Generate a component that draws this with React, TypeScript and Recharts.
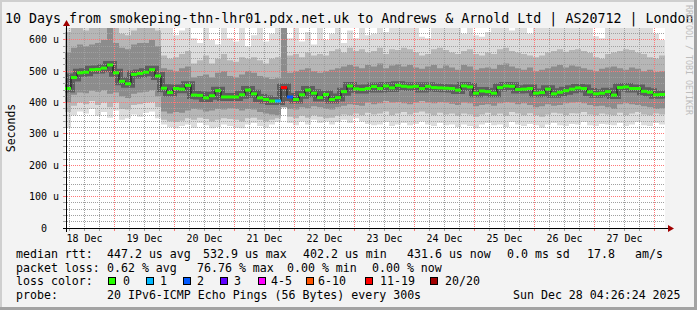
import React from 'react';
import { ComposedChart, Area, Line, XAxis, YAxis } from 'recharts';

const START_H = 4.2; // left edge of the plot, hours after 18 Dec 00:00
const STEP_H = 2.4;  // width of one smoke column in hours
const MONO = '"DejaVu Sans Mono", monospace';

const dayLabels = ['18 Dec', '19 Dec', '20 Dec', '21 Dec', '22 Dec', '23 Dec', '24 Dec', '25 Dec', '26 Dec', '27 Dec'];
const yLabels = ['0', '100 u', '200 u', '300 u', '400 u', '500 u', '600 u'];

// median rtt per column (us)
const median = [
  445, 480, 495, 497, 505, 506, 510, 520, 495, 468,
  460, 490, 493, 497, 505, 485, 446, 432, 445, 443,
  455, 424, 423, 415, 422, 438, 418, 418, 418, 425,
  440, 428, 415, 410, 405, 405, 448, 418, 410, 425,
  440, 430, 416, 426, 410, 416, 435, 453, 444, 442,
  445, 451, 445, 453, 447, 455, 452, 450, 452, 445,
  452, 448, 447, 446, 445, 440, 453, 450, 430, 437,
  435, 430, 448, 453, 452, 442, 443, 445, 430, 432,
  443, 428, 433, 438, 443, 447, 445, 434, 428, 430,
  435, 424, 448, 450, 445, 445, 436, 433, 425, 426,
];

// smoke: lightest band
const lowOuter = [
  320, 360, 372, 365, 380, 358, 370, 352, 375, 345, 350, 362, 355, 368, 372, 350,
  330, 322, 318, 325, 330, 320, 335, 328, 318, 322, 330, 325, 320, 318, 330, 335, 325, 320, 330, 338,
  385,
  335, 328, 340, 330, 345, 335, 340, 330, 338, 345, 335, 350, 340,
  332, 328, 330, 338, 325, 330, 335, 328, 332, 340, 330, 325, 335, 328, 330, 322, 330, 325, 318, 330,
  335, 328, 330, 322, 338, 330, 325, 332, 328, 320, 330, 335, 328, 325, 332, 330, 338, 328, 325, 332,
  330, 328, 335, 325, 330, 338, 328, 325, 335, 330,
];
const highOuter = [
  638, 638, 638, 638, 638, 638, 638, 638, 638, 638, 638, 638, 638, 638, 638, 638,
  638, 638, 615, 630, 638, 605, 590, 638, 600, 585, 638, 605, 595, 638, 580, 615, 638, 595, 620, 638,
  638,
  605, 638, 595, 625, 585, 638, 600, 620, 638, 590, 630, 605, 638,
  615, 620, 638, 625, 638, 638, 638, 638, 638, 610, 605, 638, 638, 638, 638, 638, 620, 638, 615, 610,
  625, 638, 638, 638, 630, 638, 638, 620, 638, 638, 638, 638, 638, 638, 638, 638, 638, 638, 612, 605,
  638, 638, 638, 638, 638, 638, 638, 638, 620, 600,
];

// smoke: middle band
const lowMid = [
  370, 390, 400, 395, 405, 392, 400, 385, 400, 380, 378, 392, 395, 400, 402, 385,
  345, 340, 338, 342, 350, 345, 352, 348, 340, 345, 350, 348, 345, 340, 350, 352, 345, 340, 345, 350,
  385,
  355, 350, 358, 352, 360, 355, 350, 352, 358, 362, 360, 365, 360,
  368, 362, 365, 372, 360, 365, 370, 362, 368, 372, 365, 360, 368, 362, 365, 358, 365, 362, 355, 362,
  368, 360, 365, 358, 370, 365, 360, 366, 360, 355, 362, 368, 365, 360, 366, 365, 370, 362, 360, 365,
  362, 360, 368, 360, 365, 370, 362, 360, 365, 362,
];
const highMid = [
  625, 638, 638, 630, 638, 638, 638, 638, 638, 620, 615, 630, 638, 638, 638, 630,
  550, 540, 545, 555, 565, 525, 535, 550, 525, 540, 555, 535, 530, 545, 540, 545, 535, 525, 540, 545,
  638,
  550, 555, 545, 560, 550, 555, 550, 565, 570, 560, 575, 565, 570,
  560, 565, 575, 555, 570, 568, 575, 570, 560, 550, 555, 570, 575, 568, 560, 555, 565, 570, 555, 550,
  560, 555, 570, 575, 565, 560, 555, 550, 545, 550, 560, 565, 570, 562, 568, 570, 565, 558, 545, 540,
  555, 560, 565, 570, 568, 560, 555, 545, 540, 550,
];

// smoke: dark band
const lowInner = [
  400, 425, 432, 430, 438, 435, 440, 428, 432, 420, 415, 428, 432, 435, 440, 420,
  372, 365, 370, 368, 375, 380, 378, 372, 375, 380, 378, 382, 380, 375, 380, 378, 370, 365, 362, 360,
  385,
  380, 378, 385, 382, 388, 385, 380, 378, 385, 390, 395, 392, 390,
  400, 395, 398, 405, 400, 402, 398, 395, 400, 405, 400, 398, 402, 400, 396, 392, 400, 398, 388, 392,
  395, 390, 398, 402, 400, 395, 398, 392, 385, 388, 395, 390, 392, 398, 400, 402, 398, 392, 388, 390,
  385, 380, 395, 398, 395, 392, 388, 385, 380, 382,
];
const highInner = [
  560, 575, 585, 580, 585, 590, 600, 638, 590, 575, 570, 585, 590, 590, 600, 580,
  510, 505, 500, 510, 515, 480, 485, 490, 480, 495, 500, 485, 480, 490, 500, 495, 485, 480, 475, 478,
  638,
  495, 500, 505, 510, 500, 495, 500, 505, 510, 515, 520, 515, 510,
  520, 515, 525, 510, 518, 522, 515, 520, 512, 508, 515, 520, 510, 518, 512, 505, 520, 515, 505, 510,
  512, 508, 520, 525, 515, 510, 505, 512, 500, 505, 510, 515, 520, 512, 518, 515, 510, 505, 500, 508,
  512, 515, 510, 505, 512, 508, 500, 505, 498, 500,
];

// columns with packet loss and their loss-colour step
const lossCols = [35, 36, 37];
const lossSteps = [1, 6, 2];
const lossColors = ['#26ff00', '#00b8ff', '#0059ff', '#5e00ff', '#ff00ff', '#ff5500', '#ff0000', '#a10000'];
const lossNames = ['0', '1', '2', '3', '4-5', '6-10', '11-19', '20/20'];
const swatchX = [108.5, 146.5, 183.5, 220.5, 258.5, 306.5, 365.5, 430.5];
const swatchLabelX = [123, 160, 197, 234, 271, 318, 380, 445];

const rows: any[] = median.map((m, i) => {
  const k = lossCols.indexOf(i);
  return {
    t: START_H + i * STEP_H,
    med: m,
    outer: [lowOuter[i], highOuter[i]],
    mid: [lowMid[i], highMid[i]],
    inner: [lowInner[i], highInner[i]],
    loss: k < 0 ? 0 : lossSteps[k],
  };
});
rows.push({ ...rows[rows.length - 1], t: START_H + median.length * STEP_H, end: true });

const xTicks: number[] = [];
for (let h = 6; h <= 240; h += 6) xTicks.push(h);
const yTicks: number[] = [];
for (let v = 0; v <= 620; v += 20) yTicks.push(v);

const X_DOMAIN = [START_H, START_H + 240];
const Y_MAX = 638;
const Y_DOMAIN = [0, Y_MAX];
const PLOT_TOP = 28;
const PLOT_BOTTOM = 228;
const PLOT_LEFT = 65;
const PLOT_RIGHT = 665;
const MAJOR = '#ff7878';
const MINOR = '#a0a0a0';

// pixel row of a y value, snapped so the dotted grid stays crisp
const gridRow = (v: number) => Math.round(PLOT_BOTTOM - (v / Y_MAX) * (PLOT_BOTTOM - PLOT_TOP) - 0.5) + 0.5;

// x tick renderer also draws the vertical grid line for its tick
function XTick(p: any) {
  const h = p.payload.value;
  const major = h % 24 === 0;
  const label = h % 24 === 12 ? dayLabels[(h - 12) / 24] : null;
  const c = major ? MAJOR : MINOR;
  return (
    <g>
      <line x1={p.x} x2={p.x} y1={PLOT_TOP} y2={PLOT_BOTTOM} stroke={c} strokeDasharray="1 1" />
      <line x1={p.x} x2={p.x} y1={229} y2={231} stroke={c} />
      {label && (
        <text x={p.x} y={242} textAnchor="middle" fontFamily={MONO} fontSize={10} fill="#000">
          {label}
        </text>
      )}
    </g>
  );
}

function YTick(p: any) {
  const v = p.payload.value;
  const major = v % 100 === 0;
  const label = major ? yLabels[v / 100] : null;
  const y = Math.round(p.y - 0.5) + 0.5;
  return (
    <g>
      <line x1={63} x2={66} y1={y} y2={y} stroke={major ? MAJOR : MINOR} />
      {label && (
        <text x={v === 0 ? 47 : 59} y={p.y + 3.5} textAnchor="end" fontFamily={MONO} fontSize={10} fill="#000">
          {label}
        </text>
      )}
    </g>
  );
}

function MedianMark(p: any) {
  if (p.payload.end || p.cx == null) return <g key={p.key ?? p.index} />;
  return (
    <rect key={p.key ?? p.index} x={p.cx} y={p.cy - 1.5} width={6} height={3} fill={lossColors[p.payload.loss]} />
  );
}

export default function App() {
  return (
    <div style={{ position: 'absolute', left: 0, top: 0, width: 697, height: 310, background: '#f3f3f3', overflow: 'hidden' }}>
      {/* plot canvas */}
      <div style={{ position: 'absolute', left: PLOT_LEFT, top: PLOT_TOP, width: 600, height: 200, background: '#ffffff' }} />

      {/* layer 1: smoke, axis ticks and vertical grid */}
      <ComposedChart
        width={697}
        height={310}
        data={rows}
        margin={{ top: 28, right: 32, bottom: 81, left: 64 }}
        style={{ position: 'absolute', left: 0, top: 0 }}
      >
        <XAxis type="number" dataKey="t" domain={X_DOMAIN} allowDataOverflow ticks={xTicks} interval={0}
          height={1} axisLine={false} tickLine={false} tick={XTick} />
        <YAxis type="number" domain={Y_DOMAIN} allowDataOverflow ticks={yTicks} interval={0}
          width={1} axisLine={false} tickLine={false} tick={YTick} />
        <Area dataKey="outer" type="stepAfter" stroke="none" fill="#dcdcdc" fillOpacity={1} isAnimationActive={false} />
        <Area dataKey="mid" type="stepAfter" stroke="none" fill="#b6b6b6" fillOpacity={1} isAnimationActive={false} />
        <Area dataKey="inner" type="stepAfter" stroke="none" fill="#8c8c8c" fillOpacity={1} isAnimationActive={false} />
        <Line dataKey="med" type="stepAfter" stroke="#3f3f3f" strokeOpacity={0.6} strokeWidth={8} dot={false} isAnimationActive={false} />
      </ComposedChart>

      {/* horizontal grid, above the smoke */}
      <svg width={697} height={310} style={{ position: 'absolute', left: 0, top: 0, pointerEvents: 'none' }}>
        {yTicks.filter((v) => v > 0).map((v) => (
          <line key={v} x1={PLOT_LEFT} x2={PLOT_RIGHT} y1={gridRow(v)} y2={gridRow(v)}
            stroke={v % 100 === 0 ? MAJOR : MINOR} strokeDasharray="1 1" />
        ))}
      </svg>

      {/* layer 2: median, coloured by packet loss */}
      <ComposedChart
        width={697}
        height={310}
        data={rows}
        margin={{ top: 28, right: 32, bottom: 82, left: 65 }}
        style={{ position: 'absolute', left: 0, top: 0 }}
      >
        <XAxis type="number" dataKey="t" domain={X_DOMAIN} allowDataOverflow hide />
        <YAxis type="number" domain={Y_DOMAIN} allowDataOverflow hide />
        <Line dataKey="med" type="stepAfter" stroke="#111111" strokeWidth={1} dot={MedianMark} isAnimationActive={false} />
      </ComposedChart>

      <svg width={697} height={310} style={{ position: 'absolute', left: 0, top: 0, pointerEvents: 'none' }}>
        {/* frame */}
        <rect x={0} y={0} width={697} height={2} fill="#cfcfcf" />
        <rect x={0} y={0} width={2} height={310} fill="#cfcfcf" />
        <rect x={694} y={0} width={3} height={310} fill="#a3a3a3" />
        <rect x={0} y={307} width={697} height={3} fill="#a3a3a3" />

        {/* axes */}
        <line x1={63} x2={669} y1={228.5} y2={228.5} stroke="#000" />
        <polygon points="668,225 668,232 674,228.5" fill="#a00000" />
        <line x1={66.5} x2={66.5} y1={232} y2={25} stroke="#000" />
        <polygon points="63,26 70,26 66.5,20" fill="#a00000" />

        <text x={5} y={23} fontFamily={MONO} fontSize={13.3} fill="#000">
          10 Days from smokeping-thn-lhr01.pdx.net.uk to Andrews &amp; Arnold Ltd | AS20712 | London
        </text>
        <text transform="translate(15,128) rotate(-90)" textAnchor="middle" fontFamily={MONO} fontSize={11.5} fill="#000">
          Seconds
        </text>
        <text transform="translate(686,5) rotate(90)" fontFamily={MONO} fontSize={8.3} fill="#bdbdbd">
          RRDTOOL / TOBI OETIKER
        </text>

        <g fontFamily={MONO} fontSize={11.6} fill="#000">
          <text x={16} y={258}>median rtt:</text>
          <text x={107} y={258}>447.2 us avg</text>
          <text x={203} y={258}>532.9 us max</text>
          <text x={303} y={258}>402.2 us min</text>
          <text x={407} y={258}>431.6 us now</text>
          <text x={507} y={258}>0.0 ms sd</text>
          <text x={587} y={258}>17.8</text>
          <text x={635} y={258}>am/s</text>

          <text x={16} y={271.5}>packet loss:</text>
          <text x={107} y={271.5}>0.62 % avg</text>
          <text x={197} y={271.5}>76.76 % max</text>
          <text x={287} y={271.5}>0.00 % min</text>
          <text x={372} y={271.5}>0.00 % now</text>

          <text x={16} y={285}>loss color:</text>
          {lossNames.map((n, i) => (
            <g key={n}>
              <rect x={swatchX[i]} y={277.5} width={7} height={7} fill={lossColors[i]} stroke="#000" strokeWidth={1} />
              <text x={swatchLabelX[i]} y={285}>{n}</text>
            </g>
          ))}

          <text x={16} y={298.5}>probe:</text>
          <text x={107} y={298.5}>20 IPv6-ICMP Echo Pings (56 Bytes) every 300s</text>
          <text x={513} y={298.5}>Sun Dec 28 04:26:24 2025</text>
        </g>
      </svg>
    </div>
  );
}
